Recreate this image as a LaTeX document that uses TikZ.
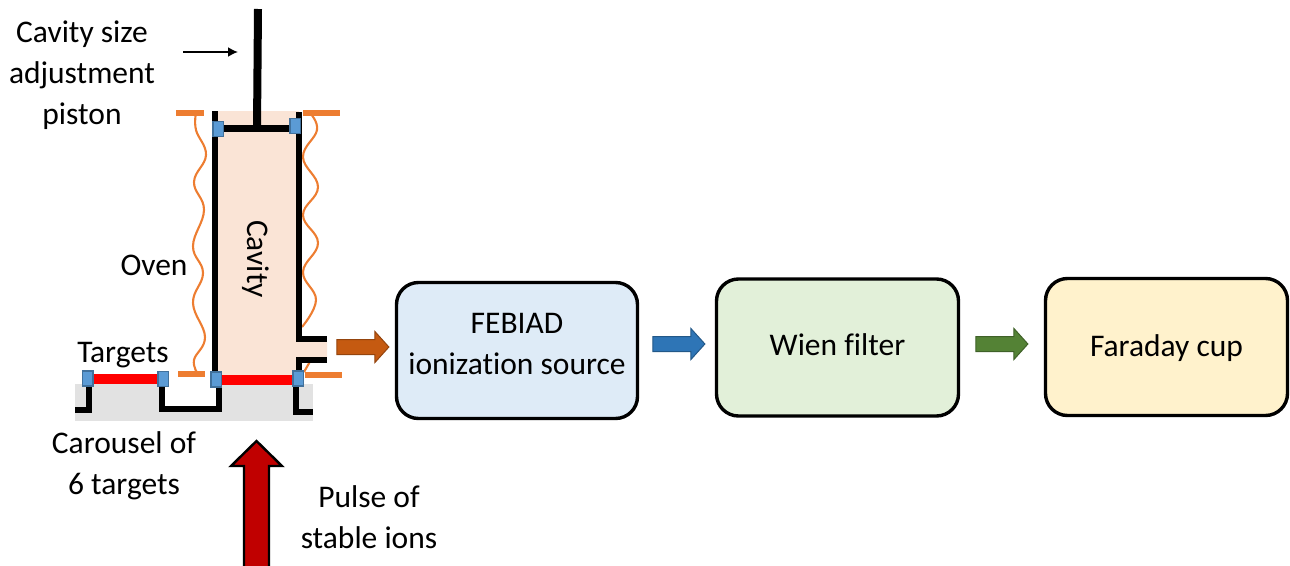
\documentclass[tikz,border=0pt]{standalone}
\usepackage{fontspec}
\setmainfont[Ligatures=NoCommon]{Carlito}
\usetikzlibrary{shapes.arrows,arrows.meta}
\definecolor{cavfill}{RGB}{250,228,214}
\definecolor{orangeline}{RGB}{237,125,49}
\definecolor{bluesq}{RGB}{91,155,213}
\definecolor{blueedge}{RGB}{65,113,156}
\definecolor{greyfill}{RGB}{226,226,226}
\definecolor{boxblue}{RGB}{222,235,247}
\definecolor{boxgreen}{RGB}{226,240,217}
\definecolor{boxyellow}{RGB}{255,242,204}
\definecolor{flowbrown}{RGB}{197,90,17}
\definecolor{flowblue}{RGB}{46,117,182}
\definecolor{flowgreen}{RGB}{84,130,53}
\definecolor{ionred}{RGB}{192,0,0}
\tikzset{
  x=1pt,y=-1pt,
  lbl/.style={font=\fontsize{31.5}{41}\selectfont,align=center,inner sep=0pt,text=black},
  wall/.style={draw=black,line width=6.2pt,line cap=butt,line join=miter},
  oven/.style={draw=orangeline,line width=2.1pt},
  ovenbar/.style={draw=orangeline,line width=5.5pt},
  seal/.style={draw=blueedge,fill=bluesq,line width=1.5pt,minimum width=10.5pt,minimum height=15pt,inner sep=0pt},
  target/.style={draw=red,line width=10pt},
  stagebox/.style={draw=black,line width=3.4pt,rounded corners=22pt,minimum height=136pt,inner sep=0pt},
  flow/.style={single arrow,minimum height=52pt,single arrow head extend=8pt,single arrow tip angle=96,inner sep=0pt,line width=1pt}
}
\newcommand{\shaft}{\rule{0pt}{14pt}}
\begin{document}
\begin{tikzpicture}
\useasboundingbox (0,0) rectangle (1290,565);
% backgrounds
\fill[greyfill] (75,384) rectangle (313,421);
\fill[white] (165,384) rectangle (216,408);
\fill[cavfill] (216,111) -- (299,111) -- (299,342) -- (327,342) -- (327,357) -- (299,357) -- (299,376) -- (216,376) -- cycle;
% oven
\draw[ovenbar] (176,113) -- (204,113);
\draw[ovenbar] (303,113) -- (340,113);
\draw[ovenbar] (178,374) -- (205,374);
\draw[ovenbar] (305,375) -- (342,375);
\draw[oven] plot[smooth,tension=0.7] coordinates {(196,113) (196,130) (206,155) (194,182) (204,210) (193,246) (203,273) (193,303) (205,337) (194,360) (198,374)};
\draw[oven] plot[smooth,tension=0.7] coordinates {(310,113) (317,130) (303,157) (318,187) (303,215) (318,243) (303,272) (316,300) (302,327)};
\draw[oven] (312,358) -- (304,372);
% walls
\draw[wall] (215,111) -- (215,376);
\draw[wall] (299,112) -- (299,339) -- (327,339);
\draw[wall] (327,360) -- (299,360) -- (299,372);
\draw[wall,line width=8pt] (258,9) -- (257,128);
\draw[wall,line width=7pt] (217,128) -- (296,128);
\draw[wall] (89,384) -- (89,410) -- (75,410);
\draw[wall] (162,384) -- (162,409) -- (219,409) -- (219,384);
\draw[wall] (296,384) -- (296,412) -- (313,412);
% targets
\draw[target] (90,379) -- (162,379);
\draw[target] (218,380) -- (297,380);
\node[seal] (s1) at (87.5,378.5) {};
\node[seal] (s2) at (163,379) {};
\node[seal] (s3) at (216,379.5) {};
\node[seal] (s4) at (298,378.5) {};
\node[seal] (s5) at (218,129) {};
\node[seal] (s6) at (295,126) {};
% arrow
\coordinate (pa) at (183,52);
\coordinate (pb) at (238,52);
\draw[black,line width=1.8pt,-{Latex[length=10pt,width=10pt]}] (pa) -- (pb);
% boxes
\node[stagebox,fill=boxblue,minimum width=241pt] (febiad) at (517,350.5) {};
\node[stagebox,fill=boxgreen,minimum width=242pt,minimum height=137pt] (wien) at (837.5,347.5) {};
\node[stagebox,fill=boxyellow,minimum width=242pt,minimum height=137pt] (faraday) at (1166.5,347) {};
% flow arrows
\node[flow,fill=flowbrown,draw=flowbrown!75!black] (a1) at (359.5,347) {\shaft};
\node[flow,fill=flowblue,draw=flowblue!75!black] (a2) at (675.5,344) {\shaft};
\node[flow,fill=flowgreen,draw=flowgreen!75!black] (a3) at (998.5,344) {\shaft};
% ion arrow
\path[fill=ionred,draw=black,line width=2.4pt,line join=miter] (256.5,441) -- (231,466) -- (244,466) -- (244,570) -- (269,570) -- (269,466) -- (282,466) -- cycle;
% labels
\node[lbl] (t1) at (82,75) {Cavity size\\adjustment\\piston};
\node[lbl] (t2) at (154,265) {Oven};
\node[lbl] (t3) at (123,355) {Targets};
\node[lbl] (t4) at (124,466) {Carousel of\\6 targets};
\node[lbl] (t5) at (369,517) {Pulse of\\stable ions};
\node[lbl,rotate=-90] (t6) at (256,259) {Cavity};
\node[lbl] (t7) at (517,344) {FEBIAD\\ionization source};
\node[lbl] (t8) at (837.5,345) {Wien filter};
\node[lbl] (t9) at (1166.5,348) {Faraday cup};
\end{tikzpicture}
\end{document}
